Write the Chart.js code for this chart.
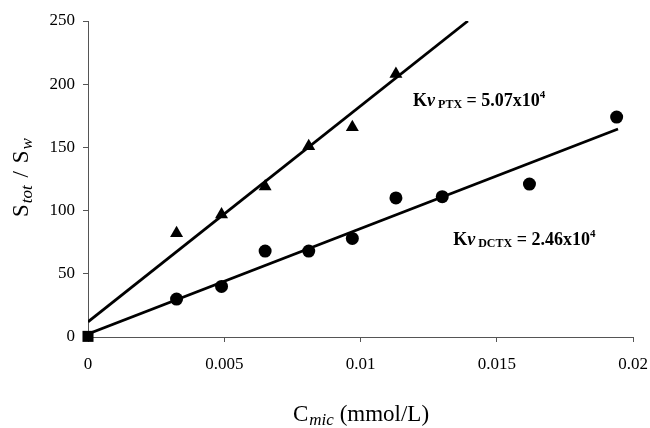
<!DOCTYPE html>
<html>
<head>
<meta charset="utf-8">
<script src="https://cdn.jsdelivr.net/npm/chart.js@4/dist/chart.umd.min.js"></script>
<style>
  html, body { margin: 0; padding: 0; background: #fff; }
  #wrap { width: 650px; height: 428px; }
</style>
</head>
<body>
<div id="wrap"><canvas id="chart" width="650" height="428"></canvas></div>
<script>
// data
const ptxConc = [0.00325, 0.0049, 0.0065, 0.0081, 0.0097, 0.0113];
const ptxRatio = [82, 97, 119, 151, 166, 208];

const dctxConc = [0.00325, 0.0049, 0.0065, 0.0081, 0.0097, 0.0113, 0.013, 0.0162, 0.0194];
const dctxRatio = [30, 40, 68, 68, 78, 110, 111, 121, 174];

const originConc = [0];
const originRatio = [0.5];

// fitted lines (end points)
const ptxFitConc = [0, 0.01394];
const ptxFitRatio = [12, 250];
const dctxFitConc = [0, 0.01945];
const dctxFitRatio = [2.4, 164.6];

const xTicks = [0, 0.005, 0.01, 0.015, 0.02];
const yTicks = [0, 50, 100, 150, 200, 250];

const serif = '"Liberation Serif", "DejaVu Serif", serif';

const toPoints = (xs, ys) => xs.map((x, i) => ({ x, y: ys[i] }));

// draws a row of text pieces, each with its own font and baseline shift
function drawPieces(ctx, pieces, x, y) {
    let cx = x;
    pieces.forEach(p => {
        ctx.font = p.font;
        if (p.gap) cx += p.gap;
        ctx.fillText(p.text, cx, y + (p.dy || 0));
        cx += ctx.measureText(p.text).width;
    });
}

const labelsPlugin = {
    id: "labels",
    afterDraw(chart) {
        const ctx = chart.ctx;
        const xs = chart.scales.x;
        const ys = chart.scales.y;
        ctx.save();
        ctx.fillStyle = "#000";
        ctx.textAlign = "left";
        ctx.textBaseline = "alphabetic";

        // x title
        drawPieces(ctx, [
            { text: "C", font: `23px ${serif}` },
            { text: "mic", font: `italic 17px ${serif}`, dy: 4, gap: 1 },
            { text: " (mmol/L)", font: `23px ${serif}` }
        ], 293, 421);

        // y title
        ctx.save();
        ctx.translate(28, 217);
        ctx.rotate(-Math.PI / 2);
        drawPieces(ctx, [
            { text: "S", font: `23px ${serif}` },
            { text: "tot", font: `italic 17px ${serif}`, dy: 4, gap: 1 },
            { text: " / ", font: `23px ${serif}`, gap: 2 },
            { text: "S", font: `23px ${serif}`, gap: 2 },
            { text: "w", font: `italic 17px ${serif}`, dy: 4, gap: 1 }
        ], 0, 0);
        ctx.restore();

        // slope annotations
        drawPieces(ctx, [
            { text: "K", font: `bold 18px ${serif}` },
            { text: "ν", font: `bold italic 18px ${serif}` },
            { text: " PTX", font: `bold 12px ${serif}`, dy: 2 },
            { text: " = 5.07x10", font: `bold 18px ${serif}` },
            { text: "4", font: `bold 11px ${serif}`, dy: -8 }
        ], xs.getPixelForValue(0.01193), ys.getPixelForValue(183));

        drawPieces(ctx, [
            { text: "K", font: `bold 18px ${serif}` },
            { text: "ν", font: `bold italic 18px ${serif}` },
            { text: " DCTX", font: `bold 12px ${serif}`, dy: 2 },
            { text: " = 2.46x10", font: `bold 18px ${serif}` },
            { text: "4", font: `bold 11px ${serif}`, dy: -8 }
        ], xs.getPixelForValue(0.0134), ys.getPixelForValue(73));

        ctx.restore();
    }
};

new Chart(document.getElementById("chart"), {
    type: "scatter",
    data: {
        datasets: [
            {
                label: "PTX fit",
                data: toPoints(ptxFitConc, ptxFitRatio),
                showLine: true,
                borderColor: "#000",
                borderWidth: 2.8,
                pointRadius: 0
            },
            {
                label: "DCTX fit",
                data: toPoints(dctxFitConc, dctxFitRatio),
                showLine: true,
                borderColor: "#000",
                borderWidth: 2.8,
                pointRadius: 0
            },
            {
                label: "PTX",
                data: toPoints(ptxConc, ptxRatio),
                pointStyle: "triangle",
                pointRadius: 7.5,
                backgroundColor: "#000",
                borderColor: "#000",
                borderWidth: 0
            },
            {
                label: "DCTX",
                data: toPoints(dctxConc, dctxRatio),
                pointStyle: "circle",
                pointRadius: 6.5,
                backgroundColor: "#000",
                borderColor: "#000",
                borderWidth: 0
            },
            {
                label: "origin",
                data: toPoints(originConc, originRatio),
                pointStyle: "rect",
                pointRadius: 7.8,
                backgroundColor: "#000",
                borderColor: "#000",
                borderWidth: 0,
                clip: false
            }
        ]
    },
    options: {
        responsive: false,
        animation: false,
        layout: { padding: { top: 21, right: 17, left: 0, bottom: 0 } },
        plugins: {
            legend: { display: false },
            tooltip: { enabled: false }
        },
        scales: {
            x: {
                type: "linear",
                min: 0,
                max: 0.02,
                afterBuildTicks: s => { s.ticks = xTicks.map(v => ({ value: v })); },
                afterFit: s => {
                    s.height = 91;
                    s.paddingLeft = 0;
                    s.paddingRight = 0;
                },
                border: { color: "#555", width: 1 },
                grid: { drawOnChartArea: false, tickLength: 5, color: "#555" },
                ticks: {
                    color: "#000",
                    padding: 12,
                    maxRotation: 0,
                    font: { family: serif, size: 17 },
                    callback: v => String(parseFloat(Number(v).toFixed(4)))
                }
            },
            y: {
                type: "linear",
                min: 0,
                max: 250,
                afterBuildTicks: s => { s.ticks = yTicks.map(v => ({ value: v })); },
                afterFit: s => {
                    s.width = 88;
                    s.paddingTop = 0;
                    s.paddingBottom = 0;
                },
                border: { color: "#555", width: 1 },
                grid: { drawOnChartArea: false, tickLength: 5, color: "#555" },
                ticks: {
                    color: "#000",
                    padding: 8,
                    font: { family: serif, size: 17 }
                }
            }
        }
    },
    plugins: [labelsPlugin]
});
</script>
</body>
</html>
